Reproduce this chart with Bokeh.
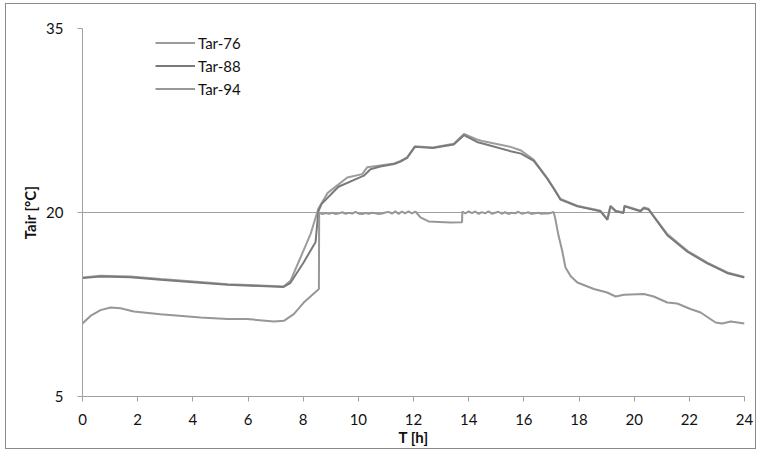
from bokeh.plotting import figure
from bokeh.models import Range1d, FixedTicker, Legend, LegendItem
from bokeh.embed import file_html
from bokeh.resources import INLINE

# ---------------- data ----------------
t76 = [0, 0.65, 1.74, 2.83, 4.02, 5.26, 6.45, 7.29, 7.54, 7.90, 8.27, 8.55, 8.89, 9.6, 10.14,
       10.32, 10.8, 11.3, 11.53, 11.77, 12.05, 12.7, 13.46, 13.83, 14.3, 14.54, 15.52,
       15.9, 16.36, 16.85, 17.08, 17.33, 17.94, 18.78, 19.03, 19.14, 19.33, 19.61, 19.65,
       20.23, 20.35, 20.52, 20.70, 21.2, 21.93, 22.65, 23.38, 24.0]
T76 = [14.71, 14.84, 14.78, 14.57, 14.37, 14.16, 14.05, 13.97, 14.43, 16.31, 18.26, 20.3,
       21.6, 22.85, 23.13, 23.68, 23.84, 24.0, 24.2, 24.5, 25.4, 25.3, 25.6, 26.4, 25.95,
       25.8, 25.35, 25.05, 24.3, 22.8, 22.0, 21.1, 20.55, 20.14, 19.46, 20.55, 20.14, 20.0,
       20.55, 20.14, 20.41, 20.3, 19.73, 18.24, 16.88, 15.92, 15.11, 14.75]

t88 = [0, 0.65, 1.74, 2.83, 4.02, 5.26, 6.45, 7.29, 7.54, 8.01, 8.45, 8.55, 8.67, 9.28, 10.2,
       10.44, 10.8, 11.3, 11.53, 11.77, 12.05, 12.7, 13.46, 13.83, 14.3, 14.54, 15.52,
       15.9, 16.36, 16.85, 17.08, 17.33, 17.94, 18.78, 19.03, 19.14, 19.33, 19.61, 19.65,
       20.23, 20.35, 20.52, 20.70, 21.2, 21.93, 22.65, 23.38, 24.0]
T88 = [14.65, 14.78, 14.72, 14.52, 14.32, 14.12, 14.0, 13.93, 14.27, 15.90, 17.6, 20.1,
       20.7, 22.1, 23.0, 23.53, 23.75, 23.95, 24.15, 24.45, 25.35, 25.25, 25.55, 26.3,
       25.75, 25.6, 25.0, 24.8, 24.2, 22.75, 21.95, 21.05, 20.5, 20.1, 19.4, 20.5, 20.1, 19.95,
       20.5, 20.1, 20.35, 20.25, 19.7, 18.15, 16.8, 15.85, 15.05, 14.7]

t94 = [0, 0.29, 0.65, 1.02, 1.38, 1.86, 2.83, 4.28, 5.25, 5.97, 6.94, 7.3, 7.66, 8.02, 8.57,
       8.58, 8.70, 8.82, 8.94, 9.06, 9.18, 9.30, 9.42, 9.54, 9.66, 9.78, 9.90, 10.02, 10.14,
       10.26, 10.38, 10.50, 10.62, 10.74, 10.86, 10.98, 11.10, 11.22, 11.34, 11.46, 11.58,
       11.70, 11.82, 11.94, 12.07,
       12.25, 12.55, 13.34, 13.76,
       13.77, 13.88, 14.0, 14.12, 14.24, 14.36, 14.48, 14.6, 14.72, 14.84, 14.96, 15.08, 15.2,
       15.32, 15.44, 15.56, 15.68, 15.8, 15.92, 16.04, 16.16, 16.28, 16.4, 16.52, 16.64, 16.76,
       16.88, 17.0, 17.08,
       17.14, 17.25, 17.39, 17.51, 17.7, 17.94, 18.54, 19.02, 19.33, 19.63, 20.35, 20.71, 21.2,
       21.56, 22.04, 22.41, 22.95, 23.19, 23.5, 24.0]
T94 = [10.95, 11.57, 12.04, 12.25, 12.2, 11.93, 11.71, 11.44, 11.31, 11.31, 11.12, 11.17,
       11.72, 12.66, 13.76,
       20.0, 19.88, 19.95, 19.9, 19.98, 19.87, 19.93, 20.02, 19.9, 19.97, 19.92, 20.05, 19.9,
       19.88, 19.95, 19.9, 19.98, 19.93, 19.87, 19.92, 20.0, 20.05, 19.9, 20.1, 19.88, 20.08,
       19.93, 20.1, 19.92, 20.08,
       19.6, 19.27, 19.18, 19.2,
       20.08, 19.92, 20.1, 19.95, 20.08, 19.88, 20.03, 19.93, 20.1, 19.9, 19.98, 20.06, 19.9,
       20.02, 19.88, 19.98, 19.93, 20.06, 19.9, 19.95, 20.02, 19.88, 19.94, 19.98, 19.9, 19.94,
       19.92, 19.98, 20.05,
       19.5, 18.2, 16.88, 15.52, 14.8, 14.29, 13.76, 13.48, 13.15, 13.29, 13.35, 13.15, 12.66,
       12.58, 12.13, 11.85, 11.03, 10.95, 11.11, 10.95]

series_names = ["Tar-76", "Tar-88", "Tar-94"]
series_colors = ["#9c9c9c", "#7a7a7a", "#979797"]
x_ticks = [0, 2, 4, 6, 8, 10, 12, 14, 16, 18, 20, 22, 24]
y_ticks = [5, 20, 35]

FONT = "Lato"
AX = "#a0a0a0"

p = figure(width=751, height=446, output_backend="svg", toolbar_location=None,
           x_range=Range1d(0, 24), y_range=Range1d(5, 35),
           min_border_left=76, min_border_right=13, min_border_top=24, min_border_bottom=54)
p.outline_line_color = None
p.background_fill_color = "white"
p.border_fill_color = "white"
p.styles = {"border": "1px solid #8a8a8a", "margin-left": "5px", "margin-top": "3px"}

rs = []
for xs, ys, c in zip([t76, t88, t94], [T76, T88, T94], series_colors):
    rs.append(p.line(xs, ys, line_color=c, line_width=2))

# axes
p.xaxis.ticker = FixedTicker(ticks=x_ticks)
p.yaxis.ticker = FixedTicker(ticks=y_ticks)
for ax in (p.xaxis[0], p.yaxis[0]):
    ax.axis_line_color = AX
    ax.major_tick_line_color = AX
    ax.major_tick_out = 5
    ax.major_tick_in = 0
    ax.minor_tick_line_color = None
    ax.major_label_text_font = FONT
    ax.major_label_text_font_size = "15px"
    ax.major_label_text_color = "#111111"
    ax.axis_label_text_font = FONT
    ax.axis_label_text_font_size = "15px"
    ax.axis_label_text_font_style = "bold"
    ax.axis_label_text_color = "#111111"
p.xaxis.axis_label = "T [h]"
p.yaxis.axis_label = "Tair [°C]"
p.xaxis.major_label_standoff = 12
p.xaxis.axis_label_standoff = 0
p.yaxis.major_label_standoff = 14
p.yaxis.axis_label_standoff = 4

p.xgrid.grid_line_color = None
p.ygrid.ticker = FixedTicker(ticks=[20, 35])
p.ygrid.grid_line_color = AX
p.ygrid.grid_line_width = 1

legend = Legend(items=[LegendItem(label=n, renderers=[r]) for n, r in zip(series_names, rs)],
                location=(73, 296), padding=0, spacing=0, margin=0,
                label_height=23, glyph_height=23, glyph_width=40, label_standoff=3,
                label_text_font=FONT, label_text_font_size="15px", label_text_color="#111111",
                background_fill_alpha=0, border_line_color=None)
p.add_layout(legend)

open("out.html", "w").write(file_html(p, INLINE))
